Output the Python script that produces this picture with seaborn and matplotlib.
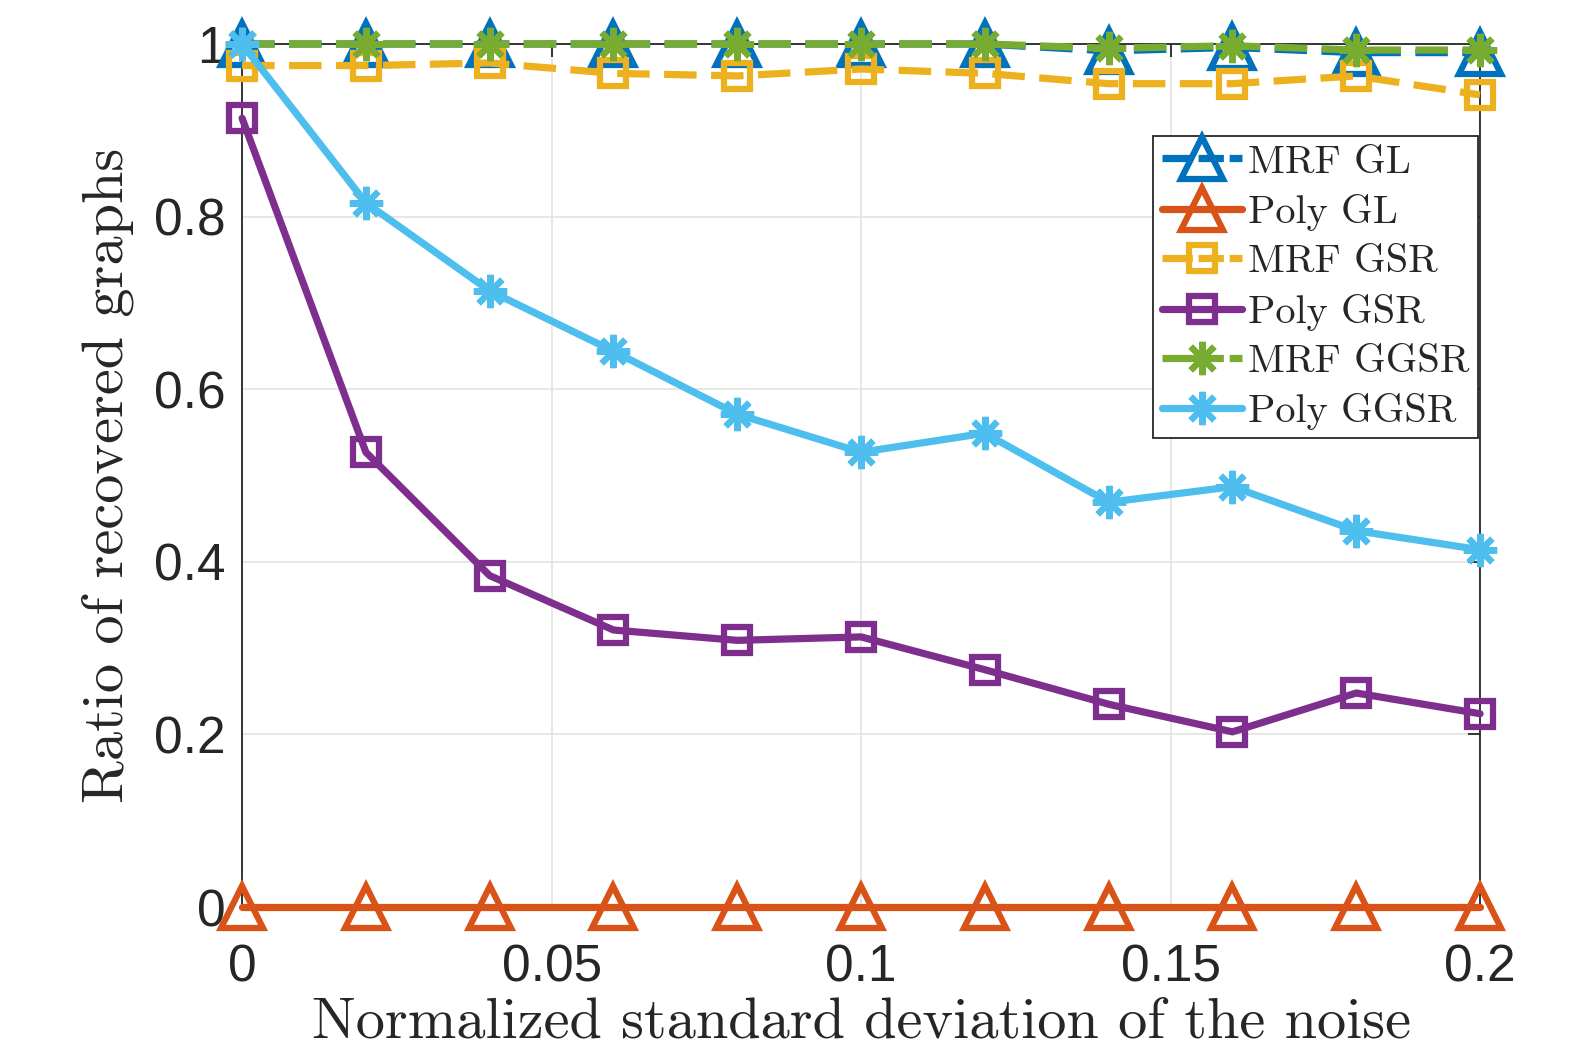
import numpy as np
import pandas as pd
import matplotlib
matplotlib.use("Agg")
import matplotlib.pyplot as plt
import seaborn as sns

noise = [0, 0.02, 0.04, 0.06, 0.08, 0.10, 0.12, 0.14, 0.16, 0.18, 0.20]

mrf_gl = [1.0, 1.0, 1.0, 1.0, 1.0, 1.0, 1.0, 0.992, 0.996, 0.99, 0.99]
poly_gl = [0, 0, 0, 0, 0, 0, 0, 0, 0, 0, 0]
mrf_gsr = [0.975, 0.975, 0.978, 0.966, 0.963, 0.971, 0.966, 0.954, 0.954, 0.963, 0.941]
poly_gsr = [0.914, 0.527, 0.384, 0.321, 0.309, 0.313, 0.275, 0.235, 0.203, 0.248, 0.224]
mrf_ggsr = [1.0, 1.0, 1.0, 1.0, 1.0, 1.0, 1.0, 0.995, 0.998, 0.993, 0.993]
poly_ggsr = [1.0, 0.816, 0.714, 0.644, 0.571, 0.527, 0.549, 0.469, 0.487, 0.436, 0.414]

labels = ['MRF GL', 'Poly GL', 'MRF GSR', 'Poly GSR', 'MRF GGSR', 'Poly GGSR']
series = [mrf_gl, poly_gl, mrf_gsr, poly_gsr, mrf_ggsr, poly_ggsr]
colors = ['#0072BD', '#D95319', '#EDB120', '#7E2F8E', '#77AC30', '#4DBEEE']
markers = ['^', '^', 's', 's', (8, 2, 0), (8, 2, 0)]
msizes = [30, 30, 19, 19, 24, 24]
dashed = [True, False, True, False, True, False]

sns.set_style('white')
plt.rcParams['font.family'] = ['Liberation Sans', 'DejaVu Sans']

fig = plt.figure(figsize=(15.72, 10.6), dpi=100)
ax = fig.add_axes([0.154, 0.1443, 0.7875, 0.8142])

df = pd.DataFrame({'noise': noise})
for lab, vals, col, mk, ms, dsh in zip(labels, series, colors, markers, msizes, dashed):
    df[lab] = vals
    ls = (0, (4.5, 2)) if dsh else '-'
    sns.lineplot(data=df, x='noise', y=lab, ax=ax, color=col, marker=mk, markersize=ms,
                 markerfacecolor='none', markeredgecolor=col, markeredgewidth=4.5,
                 linewidth=5.2, linestyle=ls, label=lab, clip_on=False, zorder=3)

ax.set_xlim(0, 0.2)
ax.set_ylim(0, 1)
ax.set_xticks([0, 0.05, 0.1, 0.15, 0.2])
ax.set_xticklabels(['0', '0.05', '0.1', '0.15', '0.2'])
ax.set_yticks([0, 0.2, 0.4, 0.6, 0.8, 1])
ax.set_yticklabels(['0', '0.2', '0.4', '0.6', '0.8', '1'])
ax.grid(True, color='#e3e3e3', linewidth=1.2)
ax.set_axisbelow(True)
for sp in ax.spines.values():
    sp.set_visible(True)
    sp.set_color('#262626')
    sp.set_linewidth(1.3)
ax.tick_params(direction='in', length=9, width=1.3, top=True, right=True,
               labelsize=37, colors='#262626')
ax.tick_params(axis='x', pad=26)
ax.tick_params(axis='y', pad=12)

ax.set_xlabel('Normalized standard deviation of the noise', fontfamily='cmr10', fontsize=42, labelpad=4)
ax.set_ylabel('Ratio of recovered graphs', fontfamily='cmr10', fontsize=42, labelpad=14)

leg = ax.legend(loc='upper right', bbox_to_anchor=(0.998, 0.893), prop={'family': 'cmr10', 'size': 29},
                handlelength=2.0, handletextpad=0.15, labelspacing=0.33, borderpad=0.2,
                borderaxespad=0, fancybox=False, framealpha=1, edgecolor='#262626')
leg.get_frame().set_linewidth(1.3)
for h in leg.get_lines():
    if h.get_linestyle() != '-':
        h.set_linestyle((0, (4.2, 0.8, 3.5, 0.8, 3, 10)))

fig.savefig('out.png', dpi=100)
